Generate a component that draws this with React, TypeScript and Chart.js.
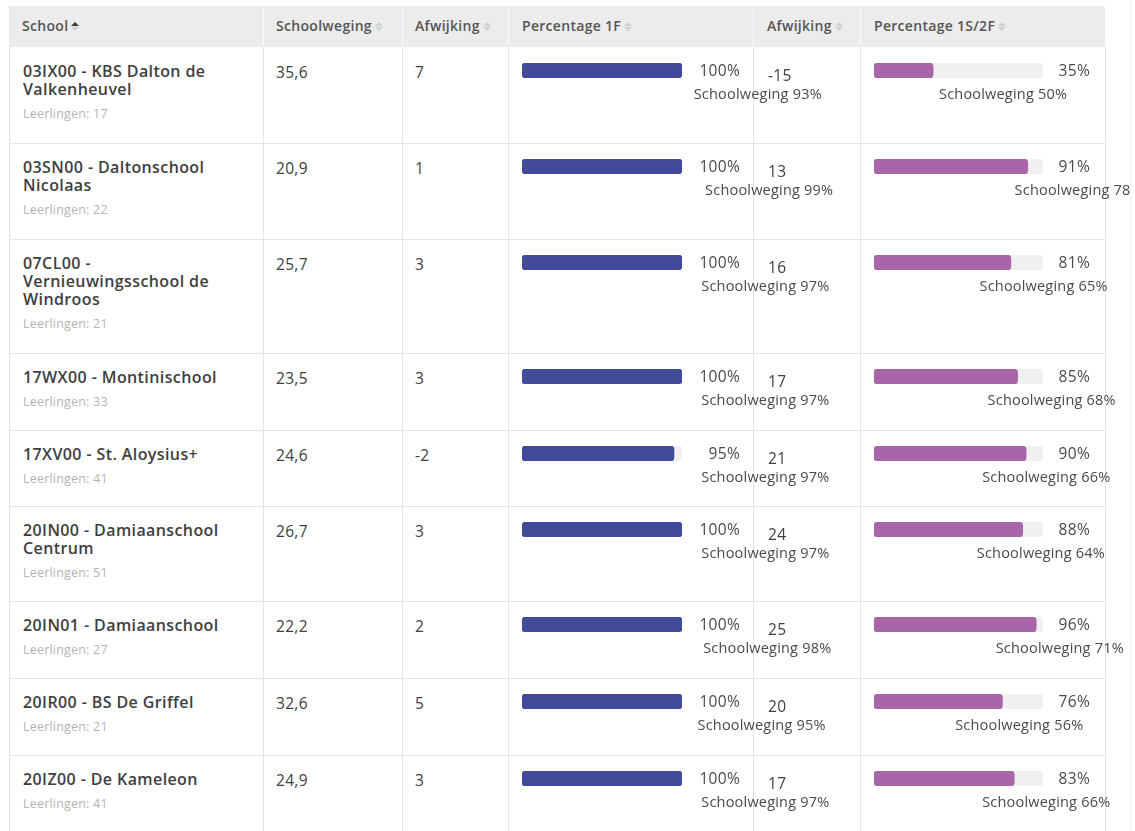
import React, { useEffect, useRef } from "react";
import { Chart, registerables } from "chart.js";

Chart.register(...registerables);

// ---- data ----
const schools = [
  "03IX00 - KBS Dalton de Valkenheuvel",
  "03SN00 - Daltonschool Nicolaas",
  "07CL00 - Vernieuwingsschool de Windroos",
  "17WX00 - Montinischool",
  "17XV00 - St. Aloysius+",
  "20IN00 - Damiaanschool Centrum",
  "20IN01 - Damiaanschool",
  "20IR00 - BS De Griffel",
  "20IZ00 - De Kameleon",
];
const leerlingen = [17, 22, 21, 33, 41, 51, 27, 21, 41];
const schoolweging = [35.6, 20.9, 25.7, 23.5, 24.6, 26.7, 22.2, 32.6, 24.9];
const afwijking1 = [7, 1, 3, 3, -2, 3, 2, 5, 3];
const pct1F = [100, 100, 100, 100, 95, 100, 100, 100, 100];
const sw1F = [93, 99, 97, 97, 97, 97, 98, 95, 97];
const afwijking2 = [-15, 13, 16, 17, 21, 24, 25, 20, 17];
const pct2F = [35, 91, 81, 85, 90, 88, 96, 76, 83];
const sw2F = [50, 78, 65, 68, 66, 64, 71, 56, 66];
const headers = ["School", "Schoolweging", "Afwijking", "Percentage 1F", "Afwijking", "Percentage 1S/2F"];

// ---- layout ----
const colX = [9, 263, 402, 508, 753, 860, 1105];
const headerTop = 6;
const headerH = 41;
const rowH = [96, 96, 114, 77, 76, 95, 77, 77, 96];
const FONT = "'Open Sans', 'Noto Sans', sans-serif";
const BORDER = "#e0e5eb";
const BLUE = "#424a9a";
const PURPLE = "#a865a7";
const TRACK = "#f0f0f0";

function BarCell({ value, color, width }: { value: number; color: string; width: number }) {
  const ref = useRef<HTMLCanvasElement | null>(null);
  useEffect(() => {
    if (!ref.current) return;
    const chart = new Chart(ref.current, {
      type: "bar",
      data: {
        labels: [""],
        datasets: [
          {
            data: [value],
            backgroundColor: color,
            borderRadius: 4,
            borderSkipped: false,
            barPercentage: 1,
            categoryPercentage: 1,
            grouped: false,
            order: 0,
          } as any,
          {
            data: [100],
            backgroundColor: TRACK,
            borderRadius: 4,
            borderSkipped: false,
            barPercentage: 1,
            categoryPercentage: 1,
            grouped: false,
            order: 1,
          } as any,
        ],
      },
      options: {
        indexAxis: "y",
        responsive: false,
        animation: false,
        events: [],
        layout: { padding: 0 },
        plugins: { legend: { display: false }, tooltip: { enabled: false } },
        scales: {
          x: { display: false, min: 0, max: 100 },
          y: { display: false },
        },
      },
    });
    return () => chart.destroy();
  }, [value, color]);
  return <canvas ref={ref} width={width} height={15} style={{ display: "block", width, height: 15 }} />;
}

function SortIcon({ active }: { active?: boolean }) {
  const tri = (up: boolean, c: string): React.CSSProperties => ({
    width: 0,
    height: 0,
    borderLeft: "4px solid transparent",
    borderRight: "4px solid transparent",
    ...(up ? { borderBottom: `4px solid ${c}` } : { borderTop: `4px solid ${c}` }),
    marginBottom: up ? 1 : 0,
  });
  return (
    <span style={{ display: "inline-flex", flexDirection: "column", marginLeft: 3, verticalAlign: "middle", position: "relative", top: -1 }}>
      <span style={tri(true, active ? "#3b3a2a" : "#cfcfcf")} />
      <span style={tri(false, "#cfcfcf")} />
    </span>
  );
}

function fmt(n: number) {
  return n.toFixed(1).replace(".", ",");
}

export default function App() {
  const rowTops: number[] = [];
  let y = headerTop + headerH;
  rowH.forEach((h) => {
    rowTops.push(y);
    y += h;
  });

  const cellText: React.CSSProperties = {
    position: "absolute",
    fontFamily: FONT,
    fontSize: 15.5,
    color: "#404040",
    lineHeight: "18px",
    whiteSpace: "nowrap",
    letterSpacing: 0.3,
  };

  return (
    <div style={{ position: "relative", width: 1131, height: 831, overflow: "hidden", background: "#fff", fontFamily: FONT }}>
      <style>{`body{margin:0;overflow:hidden}`}</style>
      {/* header background */}
      <div style={{ position: "absolute", left: colX[0], top: headerTop, width: colX[6] - colX[0], height: headerH, background: "#ececec" }} />
      {colX.slice(1, 6).map((x, i) => (
        <div key={"hv" + i} style={{ position: "absolute", left: x, top: headerTop, width: 1, height: headerH, background: "#fafafa" }} />
      ))}
      {headers.map((h, i) => {
        const offs = [13, 13, 13, 14, 14, 14];
        return (
          <div
            key={"h" + i}
            style={{
              position: "absolute",
              left: colX[i] + offs[i],
              top: headerTop + 11,
              fontSize: 14,
              fontWeight: 600,
              color: "#555",
              lineHeight: "18px",
              whiteSpace: "nowrap",
              letterSpacing: 0.3,
            }}
          >
            {h}
            <SortIcon active={i === 0} />
          </div>
        );
      })}
      {/* grid lines */}
      {colX.map((x, i) => (
        <div key={"v" + i} style={{ position: "absolute", left: x, top: headerTop + headerH, width: 1, height: 900, background: BORDER }} />
      ))}
      {rowTops.slice(1).map((t, i) => (
        <div key={"hl" + i} style={{ position: "absolute", left: colX[0], top: t, width: colX[6] - colX[0], height: 1, background: BORDER }} />
      ))}
      <div style={{ position: "absolute", left: 1131 - 1, top: 0, width: 1, height: 831, background: "#f2f2f2" }} />

      {schools.map((name, r) => {
        const top = rowTops[r];
        return (
          <React.Fragment key={"r" + r}>
            <div style={{ position: "absolute", left: colX[0] + 14, top: top + 15, width: 214 }}>
              <div style={{ fontSize: 16, fontWeight: 600, color: "#3e3e3e", lineHeight: "18px", letterSpacing: 0.4 }}>{name}</div>
              <div style={{ fontSize: 12.5, color: "#b4b4b4", lineHeight: "16px", marginTop: 8, letterSpacing: 0.2 }}>
                Leerlingen: {leerlingen[r]}
              </div>
            </div>
            <div style={{ ...cellText, left: colX[1] + 13, top: top + 16 }}>{fmt(schoolweging[r])}</div>
            <div style={{ ...cellText, left: colX[2] + 13, top: top + 16 }}>{afwijking1[r]}</div>

            <div style={{ position: "absolute", left: colX[3] + 14, top: top + 16 }}>
              <BarCell value={pct1F[r]} color={BLUE} width={160} />
            </div>
            <div style={{ ...cellText, color: "#4a4a4a", left: colX[3] + 232 - 60, width: 60, textAlign: "right", top: top + 14 }}>
              {pct1F[r]}%
            </div>
            <div style={{ ...cellText, fontSize: 14.5, letterSpacing: 0.2, color: "#4a4a4a", left: 517 + sw1F[r] * 1.9, top: top + 39, lineHeight: "16px" }}>
              Schoolweging {sw1F[r]}%
            </div>

            <div style={{ ...cellText, left: colX[4] + 15, top: top + 19 }}>{afwijking2[r]}</div>

            <div style={{ position: "absolute", left: colX[5] + 14, top: top + 16 }}>
              <BarCell value={pct2F[r]} color={PURPLE} width={169} />
            </div>
            <div style={{ ...cellText, color: "#4a4a4a", left: colX[5] + 230 - 60, width: 60, textAlign: "right", top: top + 14 }}>
              {pct2F[r]}%
            </div>
            <div style={{ ...cellText, fontSize: 14.5, letterSpacing: 0.2, color: "#4a4a4a", left: 804 + sw2F[r] * 2.7, top: top + 39, lineHeight: "16px" }}>
              Schoolweging {sw2F[r]}%
            </div>
          </React.Fragment>
        );
      })}
    </div>
  );
}
